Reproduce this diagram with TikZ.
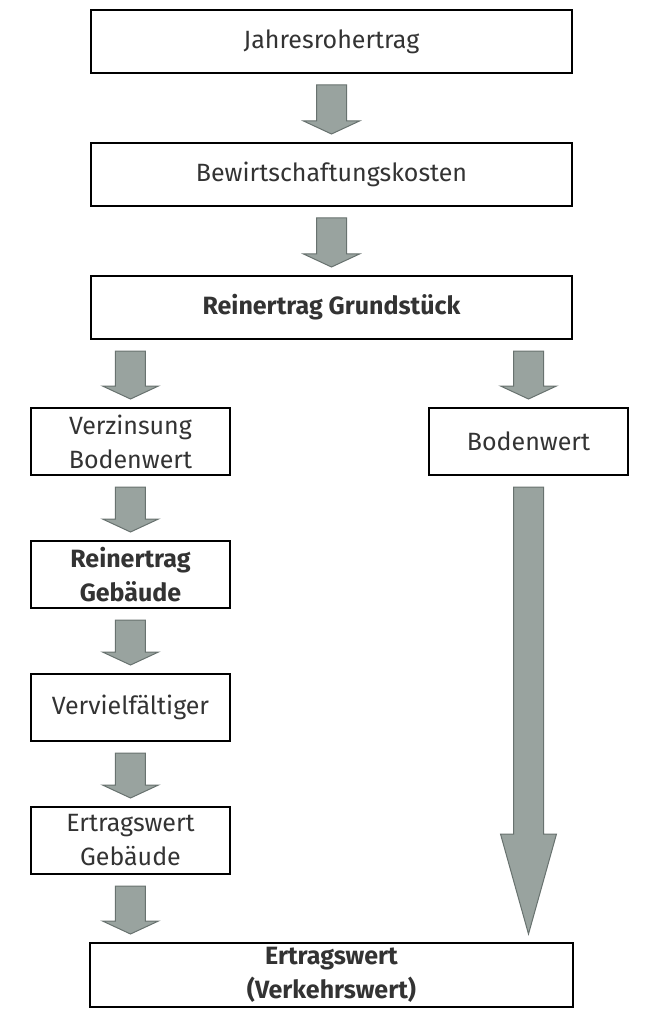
\documentclass[tikz,border=0pt]{standalone}
\usepackage{fontspec}
\setmainfont{Fira Sans}
\usetikzlibrary{positioning,calc}
\definecolor{arrowfill}{RGB}{153,163,159}
\definecolor{arrowedge}{RGB}{104,114,111}
\definecolor{textgray}{RGB}{51,51,51}

\begin{document}
\begin{tikzpicture}[%
    node distance=66pt and 197pt, % Global setup of box spacing
    ]
% -------------------------------------------------
% Box styles and the fat block arrows
\tikzset{
  base/.style={draw, line width=2pt, align=center, inner sep=0pt, text=textgray,
    font=\fontsize{25}{34}\selectfont},
  wide/.style={base, minimum width=481pt, minimum height=63pt},
  narrow/.style={base, minimum width=199pt, minimum height=67pt},
  strong/.style={font=\fontsize{25}{34}\selectfont\bfseries},
  head len/.store in=\arrhead, head len=13pt,
  % x of the shaft: \x2 = target (default), \x1 = start
  fat/.style={fill=arrowfill, draw=arrowedge, line width=1pt, line join=miter,
    to path={let \p1=($(\tikztostart.south)+(0,-11pt)$),
      \p2=($(\tikztotarget.north)+(0,8pt)$) in
      (#1-15pt,\y1) -- (#1+15pt,\y1) -- (#1+15pt,\y2+\arrhead)
      -- (#1+28pt,\y2+\arrhead) -- (#1,\y2) -- (#1-28pt,\y2+\arrhead)
      -- (#1-15pt,\y2+\arrhead) -- cycle}},
  fat/.default=\x2
}
\useasboundingbox (-331.5pt,41.5pt) rectangle (331.5pt,-982.5pt);
% -------------------------------------------------
% Start by placing the nodes
\node [wide] (j) at (0,0) {Jahresrohertrag};
\node [wide, below=68pt of j] (bw) {Bewirtschaftungskosten};
\node [wide, strong, below=68pt of bw] (rg) {Reinertrag Grundstück};
\node [narrow, below=67pt of rg, xshift=-201pt] (vb) {Verzinsung\\Bodenwert};
\node [narrow, right=197pt of vb] (bo) {Bodenwert};
\node [narrow, strong, below=64pt of vb] (rgeb) {Reinertrag\\Gebäude};
\node [narrow, below=64pt of rgeb] (vf) {Vervielfältiger};
\node [narrow, below=64pt of vf] (eg) {Ertragswert\\Gebäude};
\coordinate (fb) at (eg.south -| rg.south);
\node [wide, strong, below=67pt of fb, minimum width=483pt, minimum height=64pt] (ev)
  {Ertragswert\\(Verkehrswert)};

% Then the arrows
\draw[fat] (j) to (bw);	%Rohertrag,Kosten
\draw[fat] (bw) to (rg);	%Kosten,Reinertrag
\draw[fat] (rg) to (vb);	%Reinertrag,Verzinsung
\draw[fat] (rg) to (bo);	%Reinertrag,Bodenwert
\draw[fat] (vb) to (rgeb);	%Verzinsung,Reinertrag Gebaeude
\draw[fat] (rgeb) to (vf);	%Reinertrag Gebaeude,Vervielfaeltiger
\draw[fat] (vf) to (eg);	%Vervielfaeltiger,Ertragswert Gebaeude
\draw[fat=\x1] (eg) to (ev);	%Ertragswert Gebaeude,Ertragswert
\draw[fat=\x1, head len=100pt] (bo) to (ev);	%Bodenwert,Ertragswert

% -------------------------------------------------
\end{tikzpicture}
\end{document}
